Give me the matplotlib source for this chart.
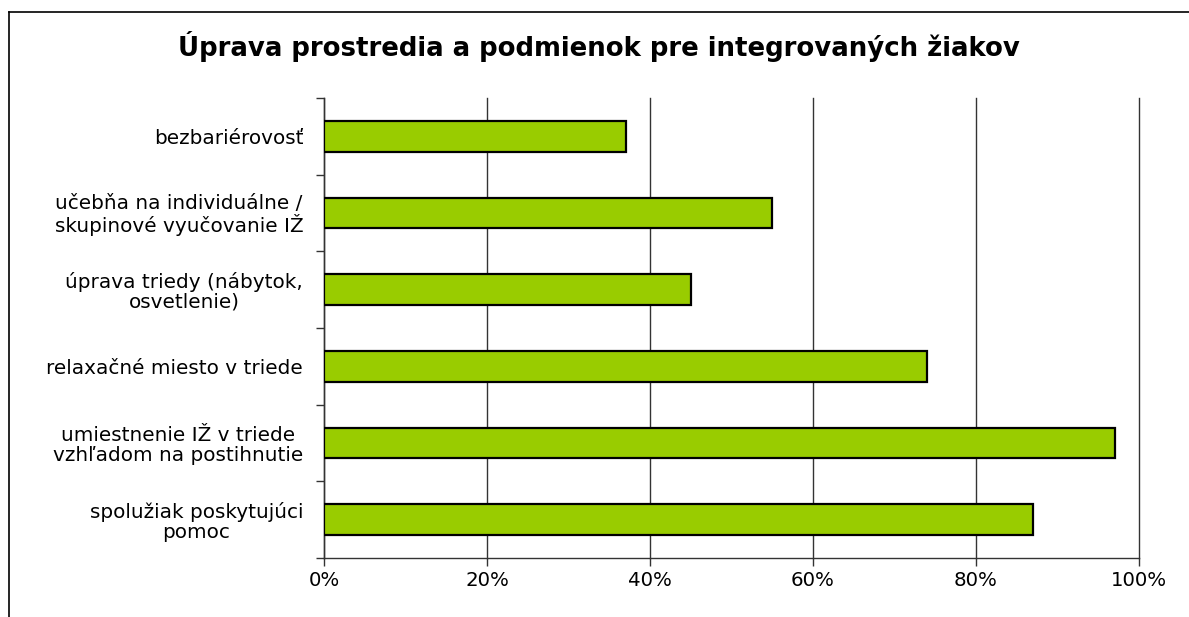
import matplotlib.pyplot as plt
from matplotlib.lines import Line2D
import numpy as np

plt.rcParams['font.family'] = ['DejaVu Sans']

# categories top to bottom
categories = [
    'bezbariérovosť',
    'učebňa na individuálne /\nskupinové vyučovanie IŽ',
    'úprava triedy (nábytok,\nosvetlenie)',
    'relaxačné miesto v triede',
    'umiestnenie IŽ v triede\nvzhľadom na postihnutie',
    'spolužiak poskytujúci\npomoc',
]
values = [37, 55, 45, 74, 97, 87]
xticks = [0, 20, 40, 60, 80, 100]
xtick_labels = ['0%', '20%', '40%', '60%', '80%', '100%']
title = 'Úprava prostredia a podmienok pre integrovaných žiakov'

fig = plt.figure(figsize=(11.89, 6.17), dpi=100)
ax = fig.add_axes([0.2725, 0.0956, 0.958 - 0.2725, 0.8412 - 0.0956])

y = np.arange(len(categories))
ax.barh(y, values, height=0.40, color='#99CC00', edgecolor='black',
        linewidth=1.6, zorder=3)

ax.set_xlim(0, 100)
ax.set_ylim(len(categories) - 0.5, -0.5)

ax.set_xticks(xticks)
ax.set_xticklabels(xtick_labels, fontsize=14.2)
ax.xaxis.grid(True, color='#333333', linewidth=1.0, zorder=0)
for gl in ax.get_xgridlines():
    gl.set_clip_on(False)

# category ticks sit on the boundaries between bars
ax.set_yticks(np.arange(len(categories) + 1) - 0.5)
ax.set_yticklabels([])
ax.set_yticks(y, minor=True)
ax.set_yticklabels(categories, minor=True, fontsize=14.4,
                   multialignment='center', linespacing=1.04)
ax.tick_params(axis='y', which='minor', length=0, pad=15)
ax.tick_params(axis='y', which='major', length=6, width=1, color='#333333')
ax.tick_params(axis='x', length=6, width=1, color='#333333', pad=3.5)

for side in ['top', 'right']:
    ax.spines[side].set_visible(False)
for side in ['left', 'bottom']:
    ax.spines[side].set_color('#333333')
    ax.spines[side].set_linewidth(1.0)

fig.text(0.504, 0.924, title, ha='center', va='center', fontsize=18.7, fontweight='bold')

# outer frame (only left and top edges visible in the picture)
fig.add_artist(Line2D([9 / 1189, 9 / 1189], [0, 1 - 12 / 617], color='black', linewidth=1.2))
fig.add_artist(Line2D([9 / 1189, 1], [1 - 12 / 617, 1 - 12 / 617], color='black', linewidth=1.2))

fig.savefig('out.png', dpi=100)
